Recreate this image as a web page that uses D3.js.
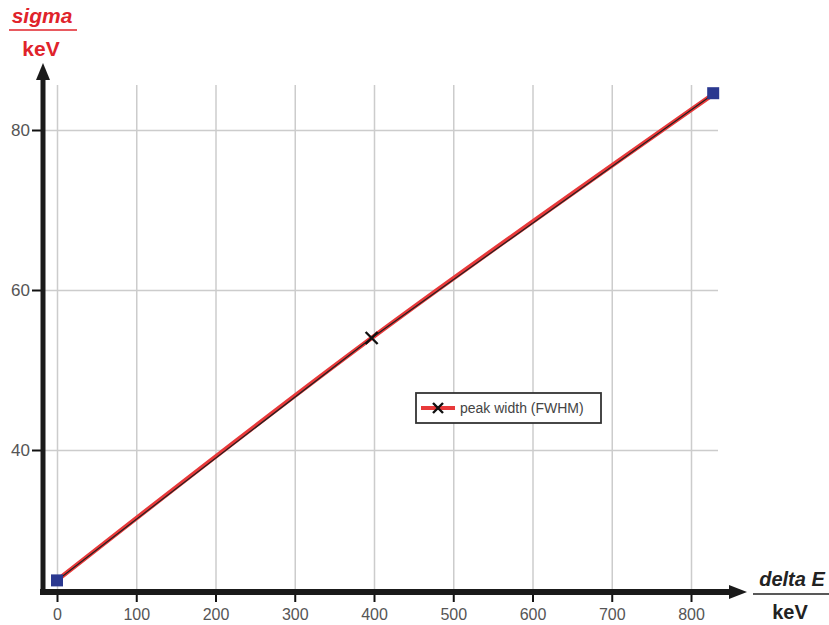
<!DOCTYPE html>
<html>
<head>
<meta charset="utf-8">
<script src="https://cdn.jsdelivr.net/npm/d3@7"></script>
<style>
  body { margin: 0; background: #fff; }
  svg { display: block; font-family: "Liberation Sans", Arial, sans-serif; }
</style>
</head>
<body>
<script>
var w = 829;
var h = 625;

// data
var xTicks = [0, 100, 200, 300, 400, 500, 600, 700, 800];
var yTicks = [40, 60, 80];
var peakE = [0, 397, 827];
var peakSigma = [23.7, 54.0, 84.4];
var endE = [0, 828];
var endSigma = [23.7, 84.6];

// scales
var xScale = d3.scaleLinear().domain([0, 800]).range([57, 691]);
var yScale = d3.scaleLinear().domain([40, 80]).range([450, 130]);

var axisX = 43;     // x position of the vertical axis
var axisY = 592;    // y position of the horizontal axis
var gridTop = 85;
var gridRight = 718;

var svg = d3.select("body").append("svg").attr("width", w).attr("height", h);

// grid
svg.append("g")
  .attr("transform", `translate(0,${axisY})`)
  .call(d3.axisBottom(xScale).tickValues(xTicks).tickSize(-(axisY - gridTop)).tickFormat(""))
  .call(g => g.select(".domain").remove())
  .selectAll("line").attr("stroke", "#cccccc").attr("stroke-width", 1.5);

svg.append("g")
  .attr("transform", `translate(${gridRight},0)`)
  .call(d3.axisLeft(yScale).tickValues(yTicks).tickSize(gridRight - axisX).tickFormat(""))
  .call(g => g.select(".domain").remove())
  .selectAll("line").attr("stroke", "#cccccc").attr("stroke-width", 1.5);

// ticks and labels
var xAxis = svg.append("g")
  .attr("transform", `translate(0,${axisY})`)
  .call(d3.axisBottom(xScale).tickValues(xTicks).tickSize(10));
xAxis.select(".domain").remove();
xAxis.selectAll("line").attr("stroke", "#111").attr("stroke-width", 2);
xAxis.selectAll("text")
  .attr("y", 28).attr("dy", 0)
  .attr("fill", "#555").style("font-size", "16px");

var yAxis = svg.append("g")
  .attr("transform", `translate(${axisX},0)`)
  .call(d3.axisLeft(yScale).tickValues(yTicks).tickSize(11));
yAxis.select(".domain").remove();
yAxis.selectAll("line").attr("stroke", "#111").attr("stroke-width", 2);
yAxis.selectAll("text")
  .attr("x", -13)
  .attr("fill", "#555").style("font-size", "17px");

// data lines
var pts = peakE.map((d, i) => [d, peakSigma[i]]);

svg.append("path")
  .datum(pts)
  .attr("fill", "none")
  .attr("stroke", "#e8393a")
  .attr("stroke-width", 4.5)
  .attr("d", d3.line().x(d => xScale(d[0])).y(d => yScale(d[1])).curve(d3.curveNatural));

svg.append("path")
  .datum(pts)
  .attr("fill", "none")
  .attr("stroke", "#222")
  .attr("stroke-width", 1.2)
  .attr("d", d3.line().x(d => xScale(d[0])).y(d => yScale(d[1])));

// cross marker in the middle
svg.append("path")
  .attr("transform", `translate(${xScale(peakE[1])},${yScale(peakSigma[1])})`)
  .attr("d", "M-6,-6L6,6M-6,6L6,-6")
  .attr("stroke", "#111")
  .attr("stroke-width", 2.4);

// end squares
svg.selectAll("rect.end")
  .data(endE.map((d, i) => [d, endSigma[i]]))
  .enter()
  .append("rect")
  .attr("class", "end")
  .attr("x", d => xScale(d[0]) - 6)
  .attr("y", d => yScale(d[1]) - 6)
  .attr("width", 12)
  .attr("height", 12)
  .attr("fill", "#2b3990");

// axis lines with arrows
svg.append("line")
  .attr("x1", axisX).attr("y1", axisY + 3)
  .attr("x2", axisX).attr("y2", 78)
  .attr("stroke", "#1a1a1a").attr("stroke-width", 5);
svg.append("path")
  .attr("d", `M${axisX - 7},80L${axisX},63L${axisX + 7},80Z`)
  .attr("fill", "#1a1a1a");

svg.append("line")
  .attr("x1", axisX - 3).attr("y1", axisY)
  .attr("x2", 732).attr("y2", axisY)
  .attr("stroke", "#1a1a1a").attr("stroke-width", 6);
svg.append("path")
  .attr("d", `M729,${axisY - 7}L747,${axisY}L729,${axisY + 7}Z`)
  .attr("fill", "#1a1a1a");

// axis titles
var yTitle = svg.append("g").attr("fill", "#e0232b").style("font-weight", "bold").style("font-size", "21px");
yTitle.append("text").attr("x", 42).attr("y", 23).attr("text-anchor", "middle")
  .style("font-style", "italic").text("sigma");
yTitle.append("line").attr("x1", 9).attr("x2", 77).attr("y1", 30).attr("y2", 30)
  .attr("stroke", "#e0232b").attr("stroke-width", 1.5);
yTitle.append("text").attr("x", 41).attr("y", 56).attr("text-anchor", "middle").text("keV");

var xTitle = svg.append("g").attr("fill", "#222").style("font-weight", "bold").style("font-size", "20px");
xTitle.append("text").attr("x", 792).attr("y", 586).attr("text-anchor", "middle")
  .style("font-style", "italic").text("delta E");
xTitle.append("line").attr("x1", 753).attr("x2", 829).attr("y1", 594).attr("y2", 594)
  .attr("stroke", "#222").attr("stroke-width", 1.5);
xTitle.append("text").attr("x", 790).attr("y", 619).attr("text-anchor", "middle").text("keV");

// legend
var legend = svg.append("g").attr("transform", "translate(416,393)");
legend.append("rect")
  .attr("width", 185).attr("height", 30)
  .attr("fill", "#fff").attr("stroke", "#333").attr("stroke-width", 1.8);
legend.append("line")
  .attr("x1", 5).attr("x2", 39).attr("y1", 15).attr("y2", 15)
  .attr("stroke", "#e8393a").attr("stroke-width", 4);
legend.append("path")
  .attr("transform", "translate(22,15)")
  .attr("d", "M-5,-5L5,5M-5,5L5,-5")
  .attr("stroke", "#111").attr("stroke-width", 2.4);
legend.append("text")
  .attr("x", 44).attr("y", 20)
  .attr("fill", "#444").style("font-size", "14px")
  .text("peak width (FWHM)");
</script>
</body>
</html>
